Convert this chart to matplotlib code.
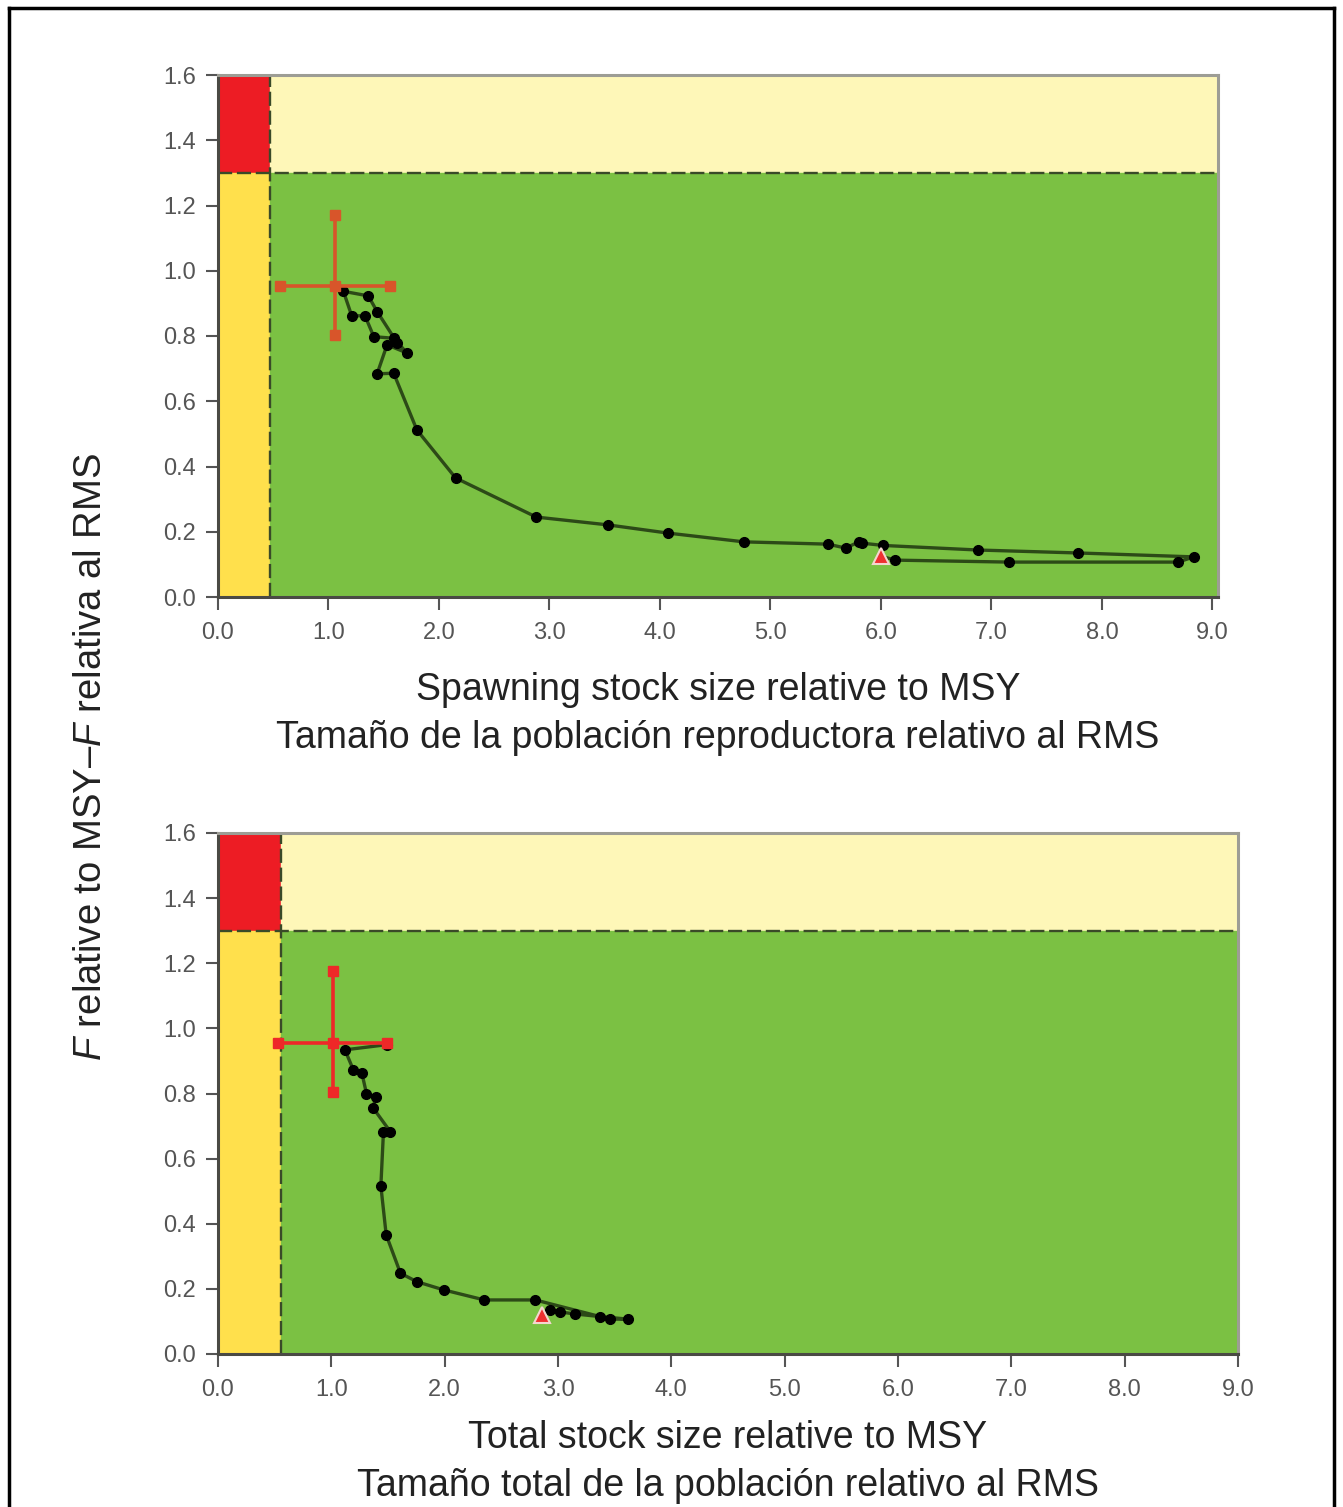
import matplotlib
matplotlib.use("Agg")
import matplotlib.pyplot as plt
from matplotlib.patches import Rectangle
from matplotlib.lines import Line2D

plt.rcParams["font.family"] = ["Liberation Sans", "DejaVu Sans"]
plt.rcParams["mathtext.fontset"] = "custom"
plt.rcParams["mathtext.rm"] = "Liberation Sans"
plt.rcParams["mathtext.it"] = "Liberation Sans:italic"

# --- data ---
XTICKS = [0, 1, 2, 3, 4, 5, 6, 7, 8, 9]
YTICKS = [0.0, 0.2, 0.4, 0.6, 0.8, 1.0, 1.2, 1.4, 1.6]

# spawning stock panel
ssb_x = [6.00, 6.13, 7.16, 8.69, 8.83, 7.78, 6.88, 6.02, 5.83, 5.80, 5.68, 5.52,
         4.76, 4.07, 3.53, 2.88, 2.15, 1.80, 1.59, 1.44, 1.53, 1.71, 1.59, 1.41,
         1.33, 1.21, 1.135, 1.36, 1.44, 1.62]
ssb_f = [0.125, 0.113, 0.107, 0.107, 0.123, 0.135, 0.144, 0.158, 0.165, 0.169, 0.150, 0.162,
         0.169, 0.196, 0.221, 0.245, 0.365, 0.512, 0.686, 0.684, 0.773, 0.748, 0.793, 0.798,
         0.862, 0.862, 0.937, 0.923, 0.875, 0.780]
ssb_cur = (1.06, 0.952)
ssb_xerr = (0.56, 1.56)
ssb_yerr = (0.804, 1.172)
ssb_limit = 0.47

# total stock panel
tot_x = [2.86, 2.93, 3.02, 3.15, 3.37, 3.62, 3.46, 2.80, 2.35, 1.99, 1.755, 1.61,
         1.484, 1.437, 1.46, 1.52, 1.37, 1.39, 1.31, 1.27, 1.195, 1.12, 1.49]
tot_f = [0.120, 0.135, 0.129, 0.123, 0.115, 0.107, 0.107, 0.166, 0.166, 0.197, 0.222, 0.248,
         0.366, 0.516, 0.683, 0.683, 0.755, 0.790, 0.800, 0.862, 0.872, 0.934, 0.950]
tot_cur = (1.013, 0.956)
tot_xerr = (0.53, 1.49)
tot_yerr = (0.806, 1.177)
tot_limit = 0.556

F_LIMIT = 1.3

RED = "#ED1C24"
PALE = "#FEF7B8"
YELLOW = "#FFE04C"
GREEN = "#7BC143"


def draw_panel(ax, xs, fs, cur, xerr, yerr, blim, xmax, cross_color, xlabel, labelpad):
    ymax = 1.6
    ax.set_xlim(0, xmax)
    ax.set_ylim(0, ymax)
    ax.add_patch(Rectangle((0, F_LIMIT), blim, ymax - F_LIMIT, color=RED, zorder=0))
    ax.add_patch(Rectangle((blim, F_LIMIT), xmax - blim, ymax - F_LIMIT, color=PALE, zorder=0))
    ax.add_patch(Rectangle((0, 0), blim, F_LIMIT, color=YELLOW, zorder=0))
    ax.add_patch(Rectangle((blim, 0), xmax - blim, F_LIMIT, color=GREEN, zorder=0))
    ax.axvline(blim, color="#3a4a28", ls=(0, (6, 2)), lw=1.7, zorder=1)
    ax.axhline(F_LIMIT, color="#3a4a28", ls=(0, (6, 2)), lw=1.7, zorder=1)

    ax.plot(xs, fs, color="#1f3510", lw=2.4, alpha=0.85, zorder=3)
    ax.plot(xs[1:], fs[1:], ls="none", marker="o", ms=7, color="black", zorder=4)
    ax.plot(xs[0], fs[0], ls="none", marker="^", ms=12, mfc="#EE3030",
            mec="#F3D6CF", mew=1.5, zorder=5)

    # current estimate with confidence bars
    ax.plot([xerr[0], xerr[1]], [cur[1], cur[1]], color=cross_color, lw=2.6, zorder=5)
    ax.plot([cur[0], cur[0]], [yerr[0], yerr[1]], color=cross_color, lw=2.6, zorder=5)
    ax.plot([xerr[0], xerr[1], cur[0], cur[0], cur[0]],
            [cur[1], cur[1], yerr[0], yerr[1], cur[1]],
            ls="none", marker="s", ms=6.5, color=cross_color, zorder=6)

    ax.set_xticks(XTICKS)
    ax.set_xticklabels([f"{v:.1f}" for v in XTICKS])
    ax.set_yticks(YTICKS)
    ax.set_yticklabels([f"{v:.1f}" for v in YTICKS])
    ax.tick_params(axis="both", direction="out", length=9, width=1.5, color="#555555",
                   labelsize=17, labelcolor="#555555")
    ax.tick_params(axis="x", pad=9)
    ax.tick_params(axis="y", pad=7)
    for side in ("top", "right"):
        ax.spines[side].set_color("#9d9d95")
    for side in ("left", "bottom"):
        ax.spines[side].set_color("#4a4a44")
    for sp in ax.spines.values():
        sp.set_linewidth(2.2)
    ax.set_xlabel(xlabel, fontsize=27, color="#222222", labelpad=labelpad, linespacing=1.42)


fig = plt.figure(figsize=(13.43, 15.07), dpi=100)

ax1 = fig.add_axes([218 / 1343, 1 - 597 / 1507, 1000 / 1343, 522 / 1507])
draw_panel(ax1, ssb_x, ssb_f, ssb_cur, ssb_xerr, ssb_yerr, ssb_limit, 9.05, "#D8552A",
           "Spawning stock size relative to MSY\nTamaño de la población reproductora relativo al RMS",
           20)

ax2 = fig.add_axes([218 / 1343, 1 - 1354 / 1507, 1020 / 1343, 521 / 1507])
draw_panel(ax2, tot_x, tot_f, tot_cur, tot_xerr, tot_yerr, tot_limit, 9.0, "#EE2828",
           "Total stock size relative to MSY\nTamaño total de la población relativo al RMS",
           14)

fig.text(91 / 1343, 1 - 757 / 1507, r"$\it{F}$ relative to MSY–$\it{F}$ relativa al RMS",
         rotation=90, ha="center", va="center", fontsize=27.5, color="#222222")

# scanned page frame
frame = dict(color="black", lw=2.5, transform=fig.transFigure)
fig.add_artist(Line2D([9 / 1343, 9 / 1343], [0, 1 - 8 / 1507], **frame))
fig.add_artist(Line2D([9 / 1343, 1334 / 1343], [1 - 8 / 1507, 1 - 8 / 1507], **frame))
fig.add_artist(Line2D([1334 / 1343, 1334 / 1343], [0, 1 - 8 / 1507], **frame))

fig.savefig("out.png", dpi=100)
